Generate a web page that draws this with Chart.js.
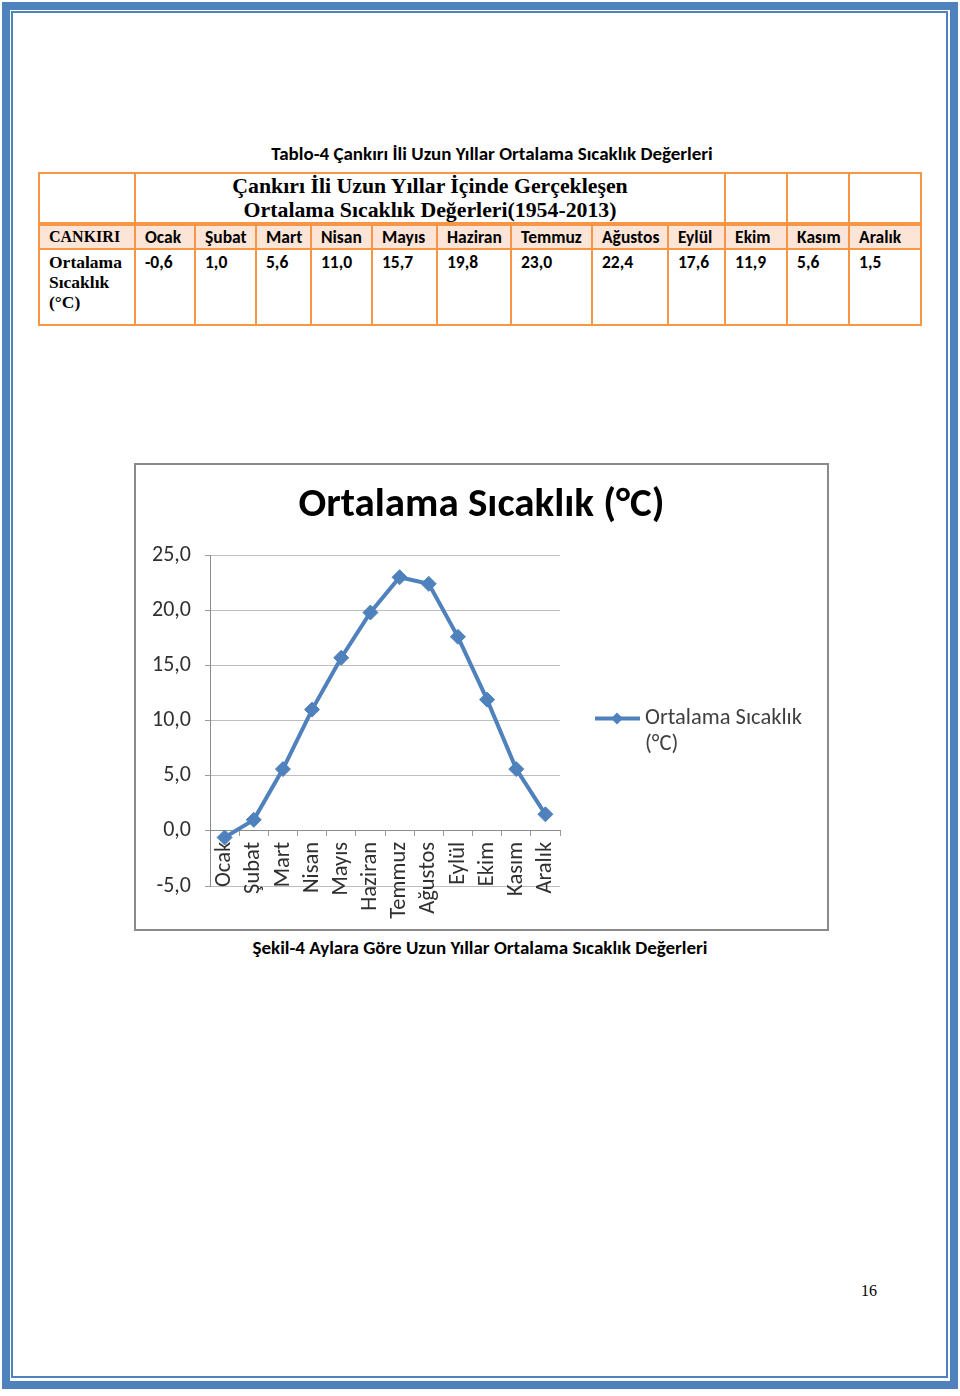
<!DOCTYPE html>
<html><head><meta charset="utf-8">
<script src="https://cdn.jsdelivr.net/npm/chart.js@4.4.1/dist/chart.umd.min.js"></script>
<style>
html,body{margin:0;padding:0;background:#fff;}
body{width:960px;height:1396px;position:relative;overflow:hidden;font-family:Carlito,Lato,"Open Sans",sans-serif;color:#000;}
.outer{position:absolute;left:2px;top:2px;width:956px;height:1387px;box-sizing:border-box;border:8px solid #4F81BD;}
.inner{position:absolute;left:11px;top:11px;width:937px;height:1367px;box-sizing:border-box;border:2px solid #4F81BD;}
.cap{position:absolute;font-weight:bold;font-size:19px;line-height:22px;white-space:nowrap;text-align:center;}
#tbl{position:absolute;left:38px;top:172px;width:882px;border-collapse:collapse;table-layout:fixed;}
#tbl td{border:2px solid #F79646;padding:0 0 0 9px;font-weight:bold;font-size:17.5px;white-space:nowrap;overflow:hidden;}
#tbl tr.r1 td{height:48px;border-bottom:4px solid #F79646;}
#tbl tr.r2 td{height:22px;background:#FCE4D6;vertical-align:middle;}
#tbl tr.r3 td{height:72px;vertical-align:top;padding-top:2px;line-height:20px;}
#tbl td.ttl{font-family:"Liberation Serif","DejaVu Serif",serif;font-size:21.8px;text-align:center;line-height:24px;padding:0;}
#tbl td.serif{font-family:"Liberation Serif","DejaVu Serif",serif;font-size:17.5px;line-height:20.5px;}
#tbl td.serif.h{font-size:16px;}
.chartbox{position:absolute;left:134px;top:463px;width:695px;height:468px;box-sizing:border-box;border:2px solid #8A8A8A;}
#pg{position:absolute;left:861px;top:1282px;font-family:"Liberation Serif",serif;font-size:16px;}
</style></head>
<body>
<div class="outer"></div><div class="inner"></div>
<div class="cap" style="left:0;width:984px;top:143px;">Tablo-4 Çankırı İli Uzun Yıllar Ortalama Sıcaklık Değerleri</div>
<table id="tbl"></table>
<div class="chartbox"><canvas id="c" width="691" height="464"></canvas></div>
<div class="cap" style="left:0;width:960px;top:937px;">Şekil-4 Aylara Göre Uzun Yıllar Ortalama Sıcaklık Değerleri</div>
<div id="pg">16</div>
<script>
// ---- data ----
const months = ["Ocak","Şubat","Mart","Nisan","Mayıs","Haziran","Temmuz","Ağustos","Eylül","Ekim","Kasım","Aralık"];
const temps = [-0.6, 1.0, 5.6, 11.0, 15.7, 19.8, 23.0, 22.4, 17.6, 11.9, 5.6, 1.5];
const seriesLabel = ["Ortalama Sıcaklık", "(°C)"];
const chartTitle = "Ortalama Sıcaklık (°C)";
const tableTitle = ["Çankırı İli Uzun Yıllar İçinde Gerçekleşen", "Ortalama Sıcaklık Değerleri(1954-2013)"];
const rowHead = "CANKIRI";
const rowLabel = ["Ortalama", "Sıcaklık", "(°C)"];
const yMin = -5, yMax = 25, yStep = 5;

const fmt = v => v.toFixed(1).replace('.', ',');

// ---- table ----
const colW = [96,60,61,55,61,65,74,81,76,57,62,62,72];
const tbl = document.getElementById('tbl');
let html = '<colgroup>' + colW.map(w=>`<col style="width:${w}px">`).join('') + '</colgroup>';
html += '<tr class="r1"><td></td><td class="ttl" colspan="9">' + tableTitle.join('<br>') + '</td><td></td><td></td><td></td></tr>';
html += '<tr class="r2"><td class="serif h">' + rowHead + '</td>' + months.map(m=>`<td>${m}</td>`).join('') + '</tr>';
html += '<tr class="r3"><td class="serif">' + rowLabel.join('<br>') + '</td>' + temps.map(t=>`<td>${fmt(t)}</td>`).join('') + '</tr>';
tbl.innerHTML = html;

// ---- chart ----
const FONT = 'Carlito, Lato, "Open Sans", sans-serif';
const BLUE = '#4F81BD';

const sideLegend = {
  id: 'sideLegend',
  afterDraw(chart) {
    const ctx = chart.ctx, ds = chart.data.datasets[0], a = chart.chartArea;
    const x0 = a.right + 35, y0 = chart.scales.y.getPixelForValue(10) - 2;
    ctx.save();
    ctx.strokeStyle = ds.borderColor; ctx.lineWidth = ds.borderWidth;
    ctx.beginPath(); ctx.moveTo(x0, y0); ctx.lineTo(x0 + 45, y0); ctx.stroke();
    const cx = x0 + 22, r = 6;
    ctx.fillStyle = ds.backgroundColor;
    ctx.beginPath(); ctx.moveTo(cx, y0 - r); ctx.lineTo(cx + r, y0); ctx.lineTo(cx, y0 + r); ctx.lineTo(cx - r, y0); ctx.closePath(); ctx.fill();
    ctx.fillStyle = '#404040'; ctx.font = '22.5px ' + FONT; ctx.textBaseline = 'middle'; ctx.textAlign = 'left';
    ds.label.forEach((l, i) => ctx.fillText(l, x0 + 50, y0 + i * 26));
    ctx.restore();
  }
};

new Chart(document.getElementById('c'), {
  type: 'line',
  data: {
    labels: months,
    datasets: [{
      label: seriesLabel,
      data: temps,
      borderColor: BLUE,
      backgroundColor: BLUE,
      borderWidth: 4,
      pointStyle: 'rectRot',
      pointRadius: 7.5,
      pointBorderWidth: 1,
      pointBackgroundColor: BLUE,
      pointBorderColor: BLUE,
      tension: 0
    }]
  },
  options: {
    responsive: false,
    animation: false,
    devicePixelRatio: 1,
    layout: { padding: { left: 0, right: 0, top: 0, bottom: 43 } },
    plugins: {
      legend: { display: false },
      tooltip: { enabled: false },
      title: {
        display: true, text: chartTitle, color: '#000',
        font: { family: FONT, size: 41, weight: 'bold', lineHeight: 1.2 },
        padding: { top: 16, bottom: 25 }
      }
    },
    scales: {
      y: {
        min: yMin, max: yMax,
        afterFit: s => { s.width = 74; },
        ticks: { stepSize: yStep, callback: v => fmt(v), color: '#303030', font: { family: FONT, size: 22 }, padding: 14 },
        grid: { color: '#BDBDBD', lineWidth: 1, tickLength: 5, tickColor: '#9A9A9A' },
        border: { color: '#8C8C8C', width: 1 }
      },
      pad: {
        type: 'linear', position: 'right', display: true,
        afterFit: s => { s.width = 267; },
        ticks: { display: false }, grid: { display: false }, border: { display: false }
      },
      x: {
        position: { y: 0 },
        offset: true,
        afterFit: s => { s.height = 0; },
        ticks: { minRotation: 90, maxRotation: 90, autoSkip: false, color: '#303030', font: { family: FONT, size: 22.5 }, padding: 6 },
        grid: { drawOnChartArea: false, offset: true, tickLength: 5, color: '#9A9A9A' },
        border: { color: '#8C8C8C', width: 1 }
      }
    }
  },
  plugins: [sideLegend]
});
</script>
</body></html>
